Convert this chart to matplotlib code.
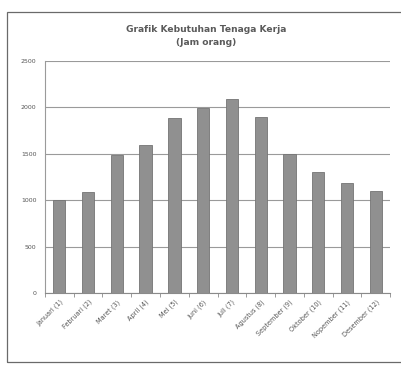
import matplotlib.pyplot as plt
from matplotlib.patches import Rectangle
import numpy as np

# data
bulan = ["Januari (1)", "Februari (2)", "Maret (3)", "April (4)", "Mei (5)", "Juni (6)",
         "Juli (7)", "Agustus (8)", "September (9)", "Oktober (10)", "Nopember (11)",
         "Desember (12)"]
jam_orang = [1000, 1090, 1490, 1590, 1890, 1990, 2090, 1900, 1500, 1300, 1190, 1100]
yticks = [0, 500, 1000, 1500, 2000, 2500]

fig = plt.figure(figsize=(4.01, 3.65), dpi=100)
fig.patch.set_facecolor('white')

# chart border (right edge runs off the scan)
fig.patches.append(Rectangle((0.018, 0.008), 1.0, 0.96, transform=fig.transFigure,
                             fill=False, edgecolor='#6a6a6a', linewidth=0.9))

ax = fig.add_axes([0.112, 0.197, 0.861, 0.636])
xx = np.arange(len(bulan))
ax.bar(xx, jam_orang, width=0.43, color='#909090', edgecolor='#747474', linewidth=0.6, zorder=3)

ax.set_xlim(-0.5, len(bulan) - 0.5)
ax.set_ylim(0, 2500)
ax.set_yticks(yticks)
ax.set_yticklabels([str(t) for t in yticks], fontsize=4.5, color='#555555')
ax.yaxis.grid(True, color='#9a9a9a', linewidth=0.8, zorder=0)
ax.tick_params(axis='y', length=0, pad=6)

ax.set_xticks(xx)
ax.set_xticklabels(bulan, rotation=45, ha='right', rotation_mode='anchor',
                   fontsize=4.7, color='#555555')
ax.set_xticks(np.arange(-0.5, len(bulan), 1), minor=True)
ax.tick_params(axis='x', which='major', length=0, pad=4)
ax.tick_params(axis='x', which='minor', length=3, color='#8a8a8a', width=0.6)

for s in ['top', 'right']:
    ax.spines[s].set_visible(False)
ax.spines['left'].set_color('#9a9a9a')
ax.spines['left'].set_linewidth(0.8)
ax.spines['bottom'].set_color('#8a8a8a')
ax.spines['bottom'].set_linewidth(0.8)

fig.text(0.515, 0.901, "Grafik Kebutuhan Tenaga Kerja\n(Jam orang)", ha='center', va='center',
         fontsize=6.6, fontweight='bold', color='#5a5a5a', linespacing=1.6)

fig.savefig('out.png', dpi=100)
